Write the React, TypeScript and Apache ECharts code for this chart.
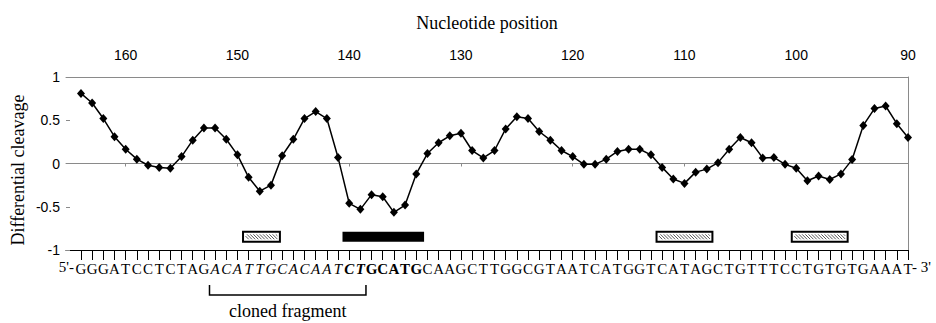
import React, { useEffect, useRef } from 'react';
import * as echarts from 'echarts';

// Nucleotide positions (left to right) and differential cleavage values
const positions = [
  164, 163, 162, 161, 160, 159, 158, 157, 156, 155, 154, 153, 152, 151, 150,
  149, 148, 147, 146, 145, 144, 143, 142, 141, 140, 139, 138, 137, 136, 135,
  134, 133, 132, 131, 130, 129, 128, 127, 126, 125, 124, 123, 122, 121, 120,
  119, 118, 117, 116, 115, 114, 113, 112, 111, 110, 109, 108, 107, 106, 105,
  104, 103, 102, 101, 100, 99, 98, 97, 96, 95, 94, 93, 92, 91, 90,
];
const cleavage = [
  0.81, 0.7, 0.52, 0.31, 0.165, 0.05, -0.02, -0.045, -0.055, 0.08, 0.27, 0.41, 0.41, 0.28, 0.1,
  -0.16, -0.32, -0.25, 0.09, 0.28, 0.52, 0.6, 0.52, 0.07, -0.46, -0.53, -0.36, -0.385, -0.565, -0.48,
  -0.12, 0.115, 0.24, 0.32, 0.35, 0.15, 0.065, 0.15, 0.4, 0.54, 0.52, 0.37, 0.27, 0.15, 0.08,
  -0.01, -0.01, 0.05, 0.14, 0.165, 0.165, 0.1, -0.045, -0.18, -0.23, -0.1, -0.065, 0.01, 0.165, 0.3,
  0.24, 0.065, 0.07, -0.01, -0.055, -0.2, -0.145, -0.185, -0.12, 0.045, 0.44, 0.635, 0.665, 0.46, 0.3,
];
const topTickLabels = [160, 150, 140, 130, 120, 110, 100, 90];
const zeroAxisTicks = [160, 150, 140, 130, 120, 110, 100];
const yTicks = [-1, -0.5, 0, 0.5, 1];

const sequenceSegments = [
  { seq: 'GGGATCCTCTAG', style: 'n' },
  { seq: 'ACATTGCACAAT', style: 'i' },
  { seq: 'CT', style: 'bi' },
  { seq: 'GCATG', style: 'b' },
  { seq: 'CAAGCTTGGCGTAATCATGGTCATAGCTGTTTCCTGTGTGAAAT', style: 'n' },
];

// Protected regions (nucleotide spans)
const boxStart = [149.5, 140.6, 112.5, 100.4];
const boxEnd = [146.2, 133.3, 107.5, 95.4];
const boxKind = ['hatched', 'solid', 'hatched', 'hatched'];

// cloned fragment span
const clonedFragment = [152.5, 138.5];

const SERIF = 'Liberation Serif, serif';
const SANS = 'Liberation Sans, sans-serif';

export default function App() {
  const ref = useRef<HTMLDivElement>(null);

  useEffect(() => {
    if (!ref.current) return;
    const chart = echarts.init(ref.current, undefined, { renderer: 'svg' });

    const letters: { ch: string; style: string }[] = [];
    sequenceSegments.forEach((s) => {
      for (const ch of s.seq) letters.push({ ch, style: s.style });
    });
    const letterByPos = new Map<number, { ch: string; style: string }>();
    positions.forEach((p, i) => {
      if (letters[i]) letterByPos.set(p, letters[i]);
    });

    const xMin = 90;
    const xMax = 165.34;
    const gray = '#8a8a8a';

    const richBase = { fontFamily: SERIF, fontSize: 15, color: '#000' };

    const option: any = {
      animation: false,
      grid: { left: 66, right: 28, top: 77, bottom: 73, outerBoundsMode: 'none' },
      xAxis: [
        {
          type: 'value',
          min: xMin,
          max: xMax,
          inverse: true,
          position: 'bottom',
          axisLine: { show: true, onZero: true, onZeroAxisIndex: 0, lineStyle: { color: gray, width: 1 } },
          axisTick: { show: true, length: 3, customValues: zeroAxisTicks, lineStyle: { color: gray } },
          axisLabel: { show: false },
          splitLine: { show: false },
        },
        {
          type: 'value',
          min: xMin,
          max: xMax,
          inverse: true,
          position: 'top',
          axisLine: { show: true, onZero: false, lineStyle: { color: gray, width: 1 } },
          axisTick: { show: false },
          axisLabel: {
            show: true,
            customValues: topTickLabels,
            margin: 15,
            color: '#000',
            fontFamily: SANS,
            fontSize: 14,
          },
          splitLine: { show: false },
        },
        {
          type: 'value',
          min: xMin,
          max: xMax,
          inverse: true,
          position: 'bottom',
          axisLine: { show: true, onZero: false, lineStyle: { color: '#000', width: 1 } },
          axisTick: { show: true, length: 10, customValues: positions, lineStyle: { color: '#000', width: 1 } },
          axisLabel: {
            show: true,
            customValues: positions,
            margin: 11,
            fontFamily: SERIF,
            formatter: (v: number) => {
              const e = letterByPos.get(Math.round(v));
              return e ? `{${e.style}|${e.ch}}` : '';
            },
            rich: {
              n: { ...richBase },
              i: { ...richBase, fontStyle: 'italic' },
              bi: { ...richBase, fontStyle: 'italic', fontWeight: 'bold' },
              b: { ...richBase, fontWeight: 'bold' },
            },
          },
          splitLine: { show: false },
        },
      ],
      yAxis: [
        {
          type: 'value',
          min: -1,
          max: 1,
          interval: 0.5,
          position: 'left',
          axisLine: { show: false, onZero: false },
          axisTick: { show: true, inside: true, length: 4, customValues: yTicks, lineStyle: { color: gray } },
          axisLabel: { show: true, margin: 6, color: '#000', fontFamily: SANS, fontSize: 14 },
          splitLine: { show: false },
        },
        {
          type: 'value',
          min: -1,
          max: 1,
          interval: 0.5,
          position: 'right',
          axisLine: { show: true, onZero: false, lineStyle: { color: gray, width: 1 } },
          axisTick: { show: false },
          axisLabel: { show: false },
          splitLine: { show: false },
        },
      ],
      graphic: [
        {
          type: 'text',
          x: 487,
          y: 23,
          style: {
            text: 'Nucleotide position',
            fontFamily: SERIF,
            fontSize: 18,
            fill: '#000',
            align: 'center',
            verticalAlign: 'middle',
          },
        },
        {
          type: 'text',
          x: 18,
          y: 170,
          rotation: Math.PI / 2,
          style: {
            text: 'Differential cleavage',
            fontFamily: SERIF,
            fontSize: 18,
            fill: '#000',
            align: 'center',
            verticalAlign: 'middle',
          },
        },
        {
          type: 'text',
          x: 74,
          y: 267,
          style: {
            text: "5'-",
            fontFamily: SERIF,
            fontSize: 15,
            fill: '#000',
            align: 'right',
            verticalAlign: 'middle',
          },
        },
        {
          type: 'text',
          x: 912,
          y: 267,
          style: {
            text: "- 3'",
            fontFamily: SERIF,
            fontSize: 15,
            fill: '#000',
            align: 'left',
            verticalAlign: 'middle',
          },
        },
      ],
      series: [
        {
          type: 'line',
          xAxisIndex: 0,
          yAxisIndex: 0,
          data: positions.map((p, i) => [p, cleavage[i]]),
          symbol: 'diamond',
          symbolSize: [8, 9],
          showSymbol: true,
          lineStyle: { color: '#000', width: 1.5 },
          itemStyle: { color: '#000' },
          smooth: false,
          z: 5,
        },
        {
          type: 'custom',
          xAxisIndex: 0,
          yAxisIndex: 0,
          clip: false,
          encode: { x: [0, 1] },
          data: boxStart.map((s, i) => [s, boxEnd[i], i]),
          renderItem: (_params: any, api: any) => {
            const idx = api.value(2);
            const a = api.coord([api.value(0), -0.79]);
            const b = api.coord([api.value(1), -0.905]);
            const x1 = Math.min(a[0], b[0]);
            const x2 = Math.max(a[0], b[0]);
            const y1 = Math.min(a[1], b[1]);
            const y2 = Math.max(a[1], b[1]);
            const children: any[] = [];
            if (boxKind[idx] === 'solid') {
              children.push({
                type: 'rect',
                shape: { x: x1, y: y1, width: x2 - x1, height: y2 - y1 },
                style: { fill: '#000' },
              });
            } else {
              children.push({
                type: 'rect',
                shape: { x: x1, y: y1, width: x2 - x1, height: y2 - y1 },
                style: { fill: '#fff', stroke: '#000', lineWidth: 2 },
              });
              const xl = x1 + 2.5;
              const xr = x2 - 2.5;
              const yt = y1 + 2.5;
              const yb = y2 - 2.5;
              const h = yb - yt;
              for (let s = xl - h; s < xr; s += 3.2) {
                const sx = Math.max(s, xl);
                const ex = Math.min(s + h, xr);
                if (ex > sx) {
                  children.push({
                    type: 'line',
                    shape: { x1: sx, y1: yt + (sx - s), x2: ex, y2: yt + (ex - s) },
                    style: { stroke: '#555', lineWidth: 1 },
                  });
                }
              }
            }
            return { type: 'group', children };
          },
          z: 3,
        },
        {
          type: 'custom',
          xAxisIndex: 0,
          yAxisIndex: 0,
          clip: false,
          encode: { x: [0, 1] },
          data: [[clonedFragment[0], clonedFragment[1]]],
          renderItem: (_params: any, api: any) => {
            const a = api.coord([api.value(0), -1]);
            const b = api.coord([api.value(1), -1]);
            const xa = Math.min(a[0], b[0]);
            const xb = Math.max(a[0], b[0]);
            const y0 = a[1];
            return {
              type: 'group',
              children: [
                {
                  type: 'polyline',
                  shape: {
                    points: [
                      [xa, y0 + 35],
                      [xa, y0 + 45],
                      [xb, y0 + 45],
                      [xb, y0 + 35],
                    ],
                  },
                  style: { stroke: '#000', lineWidth: 1.5, fill: 'none' },
                },
                {
                  type: 'text',
                  style: {
                    text: 'cloned fragment',
                    x: (xa + xb) / 2,
                    y: y0 + 61,
                    align: 'center',
                    verticalAlign: 'middle',
                    fontFamily: SERIF,
                    fontSize: 18,
                    fill: '#000',
                  },
                },
              ],
            };
          },
          z: 3,
        },
      ],
    };

    chart.setOption(option);
    return () => {
      chart.dispose();
    };
  }, []);

  return (
    <div
      ref={ref}
      style={{ position: 'fixed', left: 0, top: 0, width: 936, height: 323, background: '#fff' }}
    />
  );
}
